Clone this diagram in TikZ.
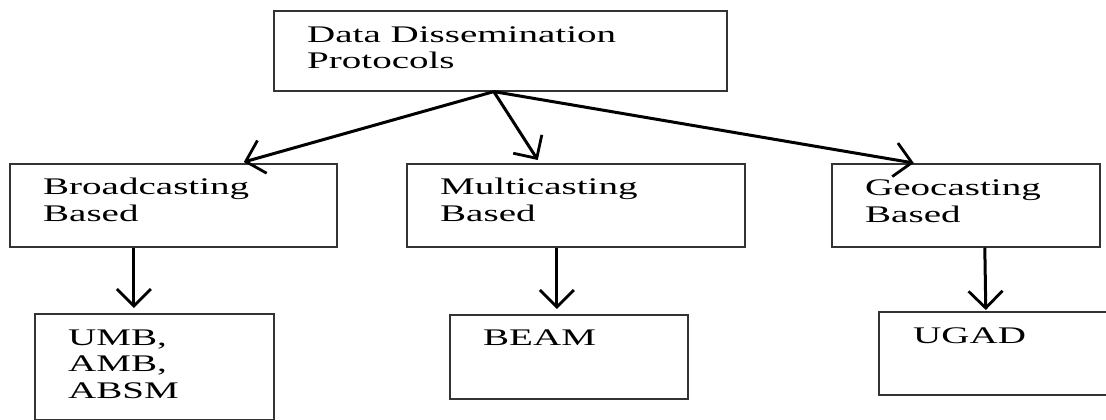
\documentclass[tikz,border=0pt]{standalone}
\usepackage{fontspec}
\setmainfont{Liberation Serif}[FakeStretch=1.64]
\usetikzlibrary{arrows.meta}
\tikzset{
  box/.style={draw=black!80, line width=1.6pt, rectangle, inner sep=0pt, anchor=north west},
  lbl/.style={inner sep=0pt, anchor=base west, align=left, font=\fontsize{23.8}{26.5}\selectfont},
  arr/.style={line width=3pt, -{Straight Barb[length=17pt,width=34pt,line width=2.8pt]}}
}
\begin{document}
\begin{tikzpicture}[x=1pt,y=-1pt]
\clip (0,0) rectangle (1106,420);
\fill[white] (0,0) rectangle (1106,420);
% boxes
\node[box, minimum width=453pt, minimum height=80pt] (top) at (273,10) {};
\node[box, minimum width=327pt, minimum height=83pt] (b) at (9,163) {};
\node[box, minimum width=338pt, minimum height=83pt] (m) at (406,163) {};
\node[box, minimum width=268pt, minimum height=83pt] (g) at (831,163) {};
\node[box, minimum width=239pt, minimum height=106pt] (umb) at (34,313) {};
\node[box, minimum width=238pt, minimum height=84pt] (beam) at (449,314) {};
\node[box, minimum width=240pt, minimum height=83pt] (ugad) at (878,311) {};
% labels (base = last line)
\node[lbl] (toptxt) at (307,69) {Data Dissemination\\Protocols};
\node[lbl] (btxt) at (43,221) {Broadcasting\\Based};
\node[lbl] (mtxt) at (440,221) {Multicasting\\Based};
\node[lbl] (gtxt) at (865,222) {Geocasting\\Based};
\node[lbl] (umbtxt) at (68,398) {UMB,\\AMB,\\ABSM};
\node[lbl] (beamtxt) at (483,345) {BEAM};
\node[lbl] (ugadtxt) at (913,343) {UGAD};
% connectors
\coordinate (src) at ([xshift=-6.5pt]top.south);
\draw[arr] (src) -- ([xshift=70.5pt,yshift=1pt]b.north);
\draw[arr] (src) -- ([xshift=-38pt,yshift=3pt]m.north);
\draw[arr] (src) -- ([xshift=-52pt]g.north);
\draw[arr] ([xshift=-39.5pt]b.south) -- ([xshift=-20.5pt,yshift=5pt]umb.north);
\draw[arr] ([xshift=-19pt]m.south) -- ([xshift=-12pt,yshift=5pt]beam.north);
\draw[arr] ([xshift=19pt]g.south) -- ([xshift=-13pt,yshift=1pt]ugad.north);
\end{tikzpicture}
\end{document}
